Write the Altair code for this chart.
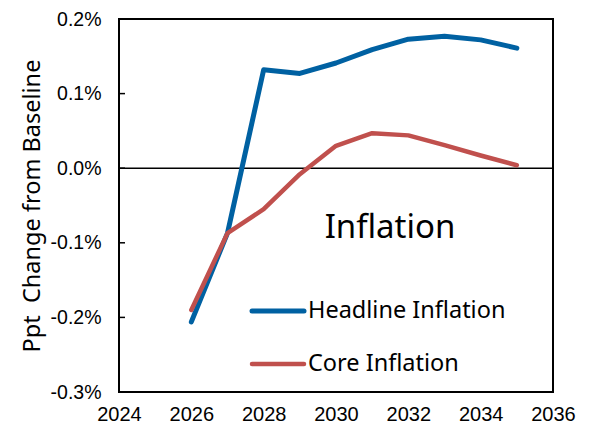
import altair as alt
import pandas as pd

# Simulated deviation from baseline, percentage points
years = [2026, 2027, 2028, 2029, 2030, 2031, 2032, 2033, 2034, 2035]
headline = [-0.206, -0.087, 0.132, 0.127, 0.141, 0.159, 0.173, 0.177, 0.172, 0.161]
core = [-0.190, -0.087, -0.055, -0.008, 0.030, 0.047, 0.044, 0.031, 0.017, 0.004]

series_names = ["Headline Inflation", "Core Inflation"]
series_colors = ["#0061A2", "#C0504D"]
y_ticks = [-0.003, -0.002, -0.001, 0.0, 0.001, 0.002]
x_ticks = [2024, 2026, 2028, 2030, 2032, 2034, 2036]

df = pd.DataFrame(
    {
        "year": years * 2,
        "value": [v / 100 for v in headline] + [v / 100 for v in core],
        "series": [series_names[0]] * len(years) + [series_names[1]] * len(years),
    }
)

W, H = 434, 373
label_font = "Liberation Sans"
text_font = "Noto Sans"

x_scale = alt.Scale(domain=[2024, 2036], nice=False, zero=False)
y_scale = alt.Scale(domain=[-0.003, 0.002], nice=False, zero=False)

x_enc = alt.X(
    "year:Q",
    scale=x_scale,
    axis=alt.Axis(
        values=x_ticks, format="d", title=None, ticks=False, grid=False,
        domain=False, labelFont=label_font, labelFontSize=20, labelColor="#000",
        labelPadding=12, labelFlush=False,
    ),
)
y_enc = alt.Y(
    "value:Q",
    scale=y_scale,
    axis=alt.Axis(
        values=y_ticks,
        labelExpr="replace(format(datum.value, '.1%'), '\u2212', '-')",
        title="Ppt\u00a0\u00a0Change from Baseline",
        ticks=False, grid=False, domain=False,
        labelFont=label_font, labelFontSize=19.5, labelColor="#000", labelPadding=18,
        titleFont=text_font, titleFontSize=23.5, titleFontWeight="normal",
        titleColor="#000", titlePadding=6,
    ),
)

color_scale = alt.Scale(domain=series_names, range=series_colors)

lines = (
    alt.Chart(df)
    .mark_line(strokeCap="round", strokeJoin="round")
    .encode(
        x=x_enc,
        y=y_enc,
        color=alt.Color("series:N", scale=color_scale, legend=None),
        strokeWidth=alt.StrokeWidth(
            "series:N", scale=alt.Scale(domain=series_names, range=[5, 4.5]), legend=None
        ),
    )
)

zero_line = (
    alt.Chart(pd.DataFrame({"value": [0.0]}))
    .mark_rule(color="#000", strokeWidth=1.6)
    .encode(y=alt.Y("value:Q", scale=y_scale))
)

# inward tick marks on the left axis
tick_marks = (
    alt.Chart(pd.DataFrame({"value": y_ticks}))
    .mark_rule(color="#000", strokeWidth=1.5)
    .encode(y=alt.Y("value:Q", scale=y_scale), x=alt.value(0), x2=alt.value(6))
)

panel_label = (
    alt.Chart(pd.DataFrame({"t": ["Inflation"]}))
    .mark_text(font=text_font, fontSize=33, color="#000", align="center", baseline="middle")
    .encode(text="t:N", x=alt.value(271), y=alt.value(209))
)

legend_df = pd.DataFrame(
    {"series": series_names, "ly": [292, 345], "sw": [5, 4.5]}
)
legend_lines = (
    alt.Chart(legend_df)
    .mark_rule(strokeCap="round")
    .encode(
        x=alt.value(133), x2=alt.value(185),
        y=alt.Y("ly:Q", scale=None),
        color=alt.Color("series:N", scale=color_scale, legend=None),
        strokeWidth=alt.StrokeWidth("sw:Q", scale=None, legend=None),
    )
)
legend_text = (
    alt.Chart(legend_df)
    .mark_text(font=text_font, fontSize=23.5, color="#000", align="left", baseline="middle")
    .encode(x=alt.value(189), y=alt.Y("ly:Q", scale=None), text="series:N")
)

chart = (
    alt.layer(zero_line, tick_marks, lines, panel_label, legend_lines, legend_text)
    .properties(
        width=W,
        height=H,
        autosize=alt.AutoSizeParams(type="none"),
        padding={"left": 119, "top": 19, "right": 40, "bottom": 35},
        background="white",
    )
    .configure_view(stroke="#000", strokeWidth=2)
)

chart.save("out.html", embed_options={"renderer": "svg", "actions": False})
